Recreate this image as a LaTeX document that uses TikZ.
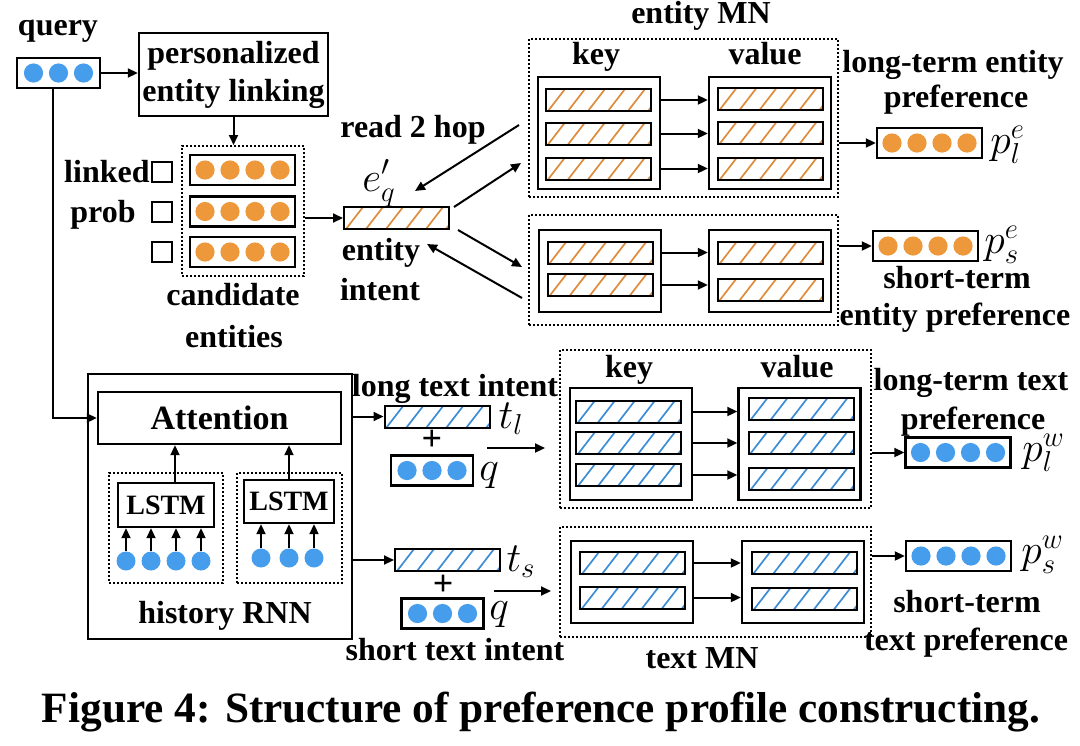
\documentclass[tikz,border=0pt]{standalone}
\usepackage{fontspec}
\setmainfont{Liberation Serif}
\usetikzlibrary{arrows.meta,calc}
\definecolor{orng}{RGB}{237,152,58}
\definecolor{blu}{RGB}{70,157,236}
\definecolor{horng}{RGB}{222,140,60}
\definecolor{hblu}{RGB}{60,140,215}
\newcommand\lblfont{\bfseries\fontsize{16}{19}\selectfont}
\tikzset{
  lbl/.style={font=\lblfont, inner sep=0pt, anchor=base},
  mth/.style={font=\fontsize{20}{24}\selectfont, inner sep=0pt},
  arr/.style={line width=1pt, -{Triangle[length=5pt,width=4.5pt]}},
  box/.style={draw, line width=1.2pt, inner sep=0pt},
  dbox/.style={draw, line width=1pt, dash pattern=on 1pt off 1pt, inner sep=0pt},
  sz/.style 2 args={minimum width=#1pt, minimum height=#2pt},
  hatch/.style={draw, line width=1pt, inner sep=0pt, minimum width=52.5pt, minimum height=11pt,
    path picture={\foreach \k in {0,...,5}{\draw[#1, line width=0.85pt]
      ([xshift={\k*10pt+1pt}]path picture bounding box.south west) -- ++(8.5pt,11pt);}}},
  dotrow/.style n args={3}{draw, line width=1.2pt, inner sep=0pt, minimum width=#3, minimum height=15pt,
    path picture={\foreach \i in {1,...,#1}{\fill[#2]
      ($(path picture bounding box.center)+({(\i-(#1+1)/2)*12.5pt},0pt)$) circle[radius=4.8pt];}}},
  cbox/.style={draw, line width=1pt, inner sep=0pt, minimum size=10pt},
  inp/.style={circle, fill=blu, inner sep=0pt, minimum size=9.5pt},
}
\begin{document}
\begin{tikzpicture}[x=0.5pt,y=-0.5pt]
\useasboundingbox (0,0) rectangle (1080,745);
% ---------------- top: entity part ----------------
\node[lbl] (tquery) at (58,35) {query};
\node[dotrow={3}{blu}{41.5pt}] (q0) at (58.5,73) {};
\node[box, sz={94.5}{41.5}, align=center, font=\lblfont] (pel) at (233.5,74.5) {personalized\\entity linking};
\node[dbox, sz={61}{65}] (cand) at (243,211) {};
\node[dotrow={4}{orng}{52.5pt}] (cr1) at (242.5,170) {};
\node[dotrow={4}{orng}{52.5pt}] (cr2) at (242.5,211.5) {};
\node[dotrow={4}{orng}{52.5pt}] (cr3) at (242.5,252) {};
\node[cbox] (cb1) at (162,171.5) {};
\node[cbox] (cb2) at (162,211.5) {};
\node[cbox] (cb3) at (162,251.5) {};
\node[lbl, anchor=base east] (tlinked) at (150,182) {linked};
\node[lbl] (tprob) at (103,222) {prob};
\node[lbl] (tcand) at (233,305) {candidate};
\node[lbl] (tents) at (234,347) {entities};
\node[hatch=horng] (eq) at (396.5,218) {};
\node[mth, anchor=base] (eqlab) at (379,191) {$e'_q$};
\node[lbl] (tread) at (413,137) {read 2 hop};
\node[lbl] (tentity) at (381,260) {entity};
\node[lbl] (tintent) at (380,300) {intent};
% entity MN long
\node[lbl] (temn) at (701,23) {entity MN};
\node[dbox, sz={154.5}{79}] (eMN1) at (683.5,118) {};
\node[lbl] (tkey1) at (596,64) {key};
\node[lbl] (tval1) at (765,64) {value};
\node[box, sz={61}{56}] (ek) at (599,133) {};
\node[hatch=horng] (ek1) at (598.5,100) {};
\node[hatch=horng] (ek2) at (598.5,133.5) {};
\node[hatch=horng] (ek3) at (598.5,168.5) {};
\node[box, sz={61}{56}] (ev) at (770,133) {};
\node[hatch=horng] (ev1) at (770,99) {};
\node[hatch=horng] (ev2) at (770,133) {};
\node[hatch=horng] (ev3) at (770,169) {};
\foreach \r in {ek1,ek2,ek3} \draw[arr] (\r -| ek.east) -- (\r -| ev.west);
\node[lbl] (tlte) at (953,72) {long-term entity};
\node[lbl] (tltep) at (956,107) {preference};
\node[dotrow={4}{orng}{52.5pt}] (ple) at (929.5,143) {};
\node[mth, anchor=west] (plelab) at (990,145) {$p_l^e$};
% entity MN short
\node[dbox, sz={154.5}{55}] (eMN2) at (683.5,270) {};
\node[box, sz={61}{41}] (ek2b) at (600,271) {};
\node[hatch=horng] (ek21) at (600,252.5) {};
\node[hatch=horng] (ek22) at (600,285) {};
\node[box, sz={61}{41}] (ev2b) at (770,271) {};
\node[hatch=horng] (ev21) at (770,253) {};
\node[hatch=horng] (ev22) at (770,289.5) {};
\foreach \r in {ek21,ek22} \draw[arr] (\r -| ek2b.east) -- (\r -| ev2b.west);
\node[dotrow={4}{orng}{52.5pt}] (pse) at (925.5,246) {};
\node[mth, anchor=west] (pselab) at (984,245) {$p_s^e$};
\node[lbl] (tste) at (957,288) {short-term};
\node[lbl] (tstep) at (955,325) {entity preference};
% arrows top
\draw[arr] (q0.east) -- (q0 -| pel.west);
\draw[arr] (pel.south) -- (pel.south |- cand.north);
\draw[arr] (cand.east |- eq) -- (eq.west);
\draw[arr] ([shift={(-9,7)}]eMN1.west) -- ([shift={(18.5,-15)}]eq.north);
\draw[arr] ([shift={(4,1)}]eq.north east) -- ([shift={(-7,45)}]eMN1.west);
\draw[arr] ([shift={(8,0)}]eq.south east) -- ([shift={(-6,-3)}]eMN2.west);
\draw[arr] ([shift={(-6,28)}]eMN2.west) -- ([shift={(30.5,14)}]eq.south);
\draw[arr] (eMN1.east |- ple) -- (ple.west);
\draw[arr] (eMN2.east |- pse) -- (pse.west);
% ---------------- bottom: text part ----------------
\node[box, sz={132}{132.5}] (hist) at (220,506.5) {};
\node[box, sz={121.5}{26}, font=\bfseries\fontsize{17}{20}\selectfont] (attn) at (219.5,418) {Attention};
\node[dbox, sz={57}{55}] (dL1) at (166,528) {};
\node[dbox, sz={52.5}{55}] (dL2) at (289.5,528) {};
\node[box, sz={48}{22}, font=\bfseries\fontsize{14}{16}\selectfont] (lstm1) at (166,505) {LSTM};
\node[box, sz={45}{21.5}, font=\bfseries\fontsize{14}{16}\selectfont] (lstm2) at (289,501.5) {LSTM};
\node[inp] (cL1) at (126,561) {};
\node[inp] (cL2) at (151,561) {};
\node[inp] (cL3) at (176,561) {};
\node[inp] (cL4) at (201,561) {};
\node[inp] (cR1) at (261,558) {};
\node[inp] (cR2) at (289,558) {};
\node[inp] (cR3) at (314,558) {};
\foreach \c in {cL1,cL2,cL3,cL4} \draw[arr] (\c.north) -- (\c.north |- lstm1.south);
\foreach \c in {cR1,cR2,cR3} \draw[arr] (\c.north) -- (\c.north |- lstm2.south);
\draw[arr] ([xshift=4.5pt]lstm1.north) -- ([xshift=4.5pt]lstm1.north |- attn.south);
\draw[arr] (lstm2.north) -- (lstm2.north |- attn.south);
\node[lbl] (thist) at (225,623) {history RNN};
\draw[arr] ([xshift=-2.75pt]q0.south) |- (attn.west);
% intents
\node[lbl] (tlti) at (455,396) {long text intent};
\node[hatch=hblu] (tl) at (437,416.5) {};
\node[mth] (tllab) at (511,419) {$t_l$};
\node[font=\bfseries\fontsize{18}{20}\selectfont, inner sep=0pt] (plus1) at (432,440) {+};
\node[dotrow={3}{blu}{41pt}] (q1) at (432,470.5) {};
\node[mth] (q1lab) at (489,476) {$q$};
\node[hatch=hblu] (ts) at (447.5,560) {};
\node[mth] (tslab) at (521,562) {$t_s$};
\node[font=\bfseries\fontsize{18}{20}\selectfont, inner sep=0pt] (plus2) at (443,585) {+};
\node[dotrow={3}{blu}{41pt}] (q2) at (442.5,613.5) {};
\node[mth] (q2lab) at (499,615) {$q$};
\node[lbl] (tsti) at (455,660) {short text intent};
\draw[arr] (hist.east |- tl) -- (tl.west);
\draw[arr] (hist.east |- ts) -- (ts.west);
% text MN long
\node[dbox, sz={155.5}{79}] (tMN1) at (715.5,429) {};
\node[lbl] (tkey2) at (629,377) {key};
\node[lbl] (tval2) at (797,377) {value};
\node[box, sz={61}{56}] (tk) at (631,444) {};
\node[hatch=hblu] (tk1) at (628.5,411.5) {};
\node[hatch=hblu] (tk2) at (628.5,443) {};
\node[hatch=hblu] (tk3) at (628.5,475) {};
\node[box, sz={61}{56}] (tv) at (799.5,444) {};
\node[hatch=hblu] (tv1) at (801,409) {};
\node[hatch=hblu] (tv2) at (801,442.5) {};
\node[hatch=hblu] (tv3) at (801,479) {};
\foreach \r in {tk1,tk2,tk3} \draw[arr] (\r -| tk.east) -- (\r -| tv.west);
\node[lbl] (tltt) at (971,390) {long-term text};
\node[lbl] (tlttp) at (973,429) {preference};
\node[dotrow={4}{blu}{52.5pt}] (plw) at (958,452.5) {};
\node[mth, anchor=west] (plwlab) at (1022,453) {$p_l^w$};
% text MN short
\node[dbox, sz={155.5}{55}] (tMN2) at (715.5,582) {};
\node[box, sz={61}{41}] (tk2b) at (632,582) {};
\node[hatch=hblu] (tk21) at (632.5,563) {};
\node[hatch=hblu] (tk22) at (632.5,597.5) {};
\node[box, sz={61}{41}] (tv2b) at (803,582) {};
\node[hatch=hblu] (tv21) at (804,562.5) {};
\node[hatch=hblu] (tv22) at (804,599) {};
\foreach \r in {tk21,tk22} \draw[arr] (\r -| tk2b.east) -- (\r -| tv2b.west);
\node[dotrow={4}{blu}{52.5pt}] (psw) at (958.5,556) {};
\node[mth, anchor=west] (pswlab) at (1021,555) {$p_s^w$};
\node[lbl] (tstt) at (967,612) {short-term};
\node[lbl] (tsttp) at (966,650) {text preference};
\node[lbl] (ttmn) at (702,668) {text MN};
\draw[arr] (tMN1.east |- plw) -- (plw.west);
\draw[arr] (tMN2.east |- psw) -- (psw.west);
\draw[arr] ([shift={(-72,19)}]tMN1.west) -- ([shift={(-14,19)}]tMN1.west);
\draw[arr] ([shift={(-65,9)}]tMN2.west) -- ([shift={(-8,9)}]tMN2.west);
% caption
\node[inner sep=0pt, anchor=base] (cap) at (541,722) {\resizebox{499pt}{!}{\bfseries\fontsize{22}{26}\selectfont Figure 4: Structure of preference profile constructing.}};
\end{tikzpicture}
\end{document}
